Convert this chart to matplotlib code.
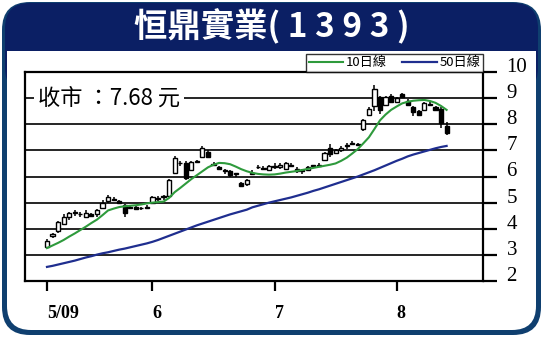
import numpy as np
import matplotlib
matplotlib.use("Agg")
import matplotlib.pyplot as plt
from matplotlib.patches import FancyBboxPatch, Rectangle

plt.rcParams['font.family'] = ['Noto Sans CJK TC', 'DejaVu Sans']

title = "恒鼎實業( 1 3 9 3 )"
close_note = "收市 ：7.68 元"
month_ticks = [0, 19, 41, 63]
month_labels = ["5/09", "6", "7", "8"]
legend_labels = ["10日線", "50日線"]

opens = [3.30, 3.72, 3.90, 4.20, 4.45, 4.60, 4.55, 4.45, 4.55, 4.55,
         4.80, 5.05, 5.15, 5.05, 4.90, 4.80, 4.85, 4.78, 4.80, 5.00,
         5.15, 5.20, 5.25, 6.15, 6.50, 6.50, 6.25, 6.55, 6.75, 6.95,
         6.45, 6.35, 6.25, 6.20, 6.10, 5.75, 5.70, 6.10, 6.35, 6.30,
         6.25, 6.40, 6.35, 6.30, 6.45, 6.30, 6.20, 6.25, 6.40, 6.40,
         6.65, 7.10, 6.90, 7.00, 7.15, 7.25, 7.25, 7.80, 8.35, 8.70,
         9.05, 8.75, 9.10, 8.85, 9.15, 8.90, 8.65, 8.50, 8.55, 8.75,
         8.65, 8.60, 7.95]
highs = [3.60, 3.85, 4.30, 4.55, 4.65, 4.70, 4.65, 4.70, 4.60, 4.75,
         5.10, 5.30, 5.20, 5.10, 4.95, 4.90, 4.90, 4.85, 4.90, 5.25,
         5.25, 5.30, 5.90, 6.80, 6.60, 6.60, 6.60, 6.65, 7.15, 7.00,
         6.55, 6.40, 6.30, 6.25, 6.15, 5.80, 5.90, 6.25, 6.45, 6.40,
         6.45, 6.50, 6.50, 6.55, 6.50, 6.35, 6.30, 6.40, 6.45, 6.50,
         6.95, 7.25, 7.05, 7.15, 7.30, 7.35, 7.30, 8.20, 8.65, 9.50,
         9.10, 9.10, 9.15, 9.05, 9.20, 8.95, 8.70, 8.55, 8.85, 8.85,
         8.70, 8.65, 8.10]
lows = [3.25, 3.65, 3.85, 4.15, 4.35, 4.50, 4.45, 4.40, 4.45, 4.45,
        4.75, 5.00, 5.05, 4.95, 4.45, 4.75, 4.70, 4.70, 4.75, 4.95,
        5.05, 5.10, 5.20, 6.10, 6.40, 5.85, 6.20, 6.50, 6.70, 6.70,
        6.40, 6.25, 6.10, 6.00, 6.00, 5.60, 5.65, 6.05, 6.30, 6.25,
        6.20, 6.30, 6.30, 6.25, 6.35, 6.15, 6.10, 6.20, 6.35, 6.35,
        6.60, 6.75, 6.85, 6.95, 7.05, 7.20, 7.15, 7.75, 8.30, 8.50,
        8.40, 8.70, 8.80, 8.80, 9.00, 8.70, 8.30, 8.30, 8.50, 8.70,
        8.50, 7.85, 7.60]
closes = [3.55, 3.80, 4.25, 4.45, 4.60, 4.60, 4.55, 4.60, 4.50, 4.70,
          5.00, 5.20, 5.10, 5.00, 4.60, 4.85, 4.75, 4.80, 4.85, 5.20,
          5.15, 5.25, 5.85, 6.70, 6.50, 5.95, 6.55, 6.55, 7.10, 6.75,
          6.45, 6.30, 6.20, 6.05, 6.10, 5.65, 5.85, 6.15, 6.35, 6.30,
          6.40, 6.35, 6.45, 6.50, 6.40, 6.20, 6.25, 6.35, 6.40, 6.45,
          6.90, 6.85, 7.00, 7.10, 7.20, 7.30, 7.20, 8.15, 8.60, 9.35,
          8.55, 9.05, 8.85, 9.00, 9.05, 8.75, 8.45, 8.35, 8.80, 8.75,
          8.55, 8.05, 7.68]
ma10 = [3.26, 3.36, 3.46, 3.57, 3.70, 3.82, 3.95, 4.08, 4.22, 4.35,
        4.52, 4.70, 4.77, 4.83, 4.86, 4.88, 4.90, 4.93, 4.97, 5.00,
        5.02, 5.04, 5.18, 5.40, 5.56, 5.73, 5.90, 6.05, 6.20, 6.35,
        6.45, 6.52, 6.51, 6.47, 6.38, 6.28, 6.20, 6.14, 6.10, 6.08,
        6.07, 6.08, 6.11, 6.15, 6.18, 6.21, 6.25, 6.29, 6.33, 6.37,
        6.41, 6.45, 6.50, 6.60, 6.72, 6.88, 7.05, 7.27, 7.50, 7.82,
        8.15, 8.37, 8.55, 8.68, 8.80, 8.86, 8.90, 8.92, 8.93, 8.89,
        8.82, 8.70, 8.55]
ma50 = [2.54, 2.58, 2.63, 2.68, 2.73, 2.78, 2.84, 2.90, 2.95, 3.01,
        3.06, 3.10, 3.15, 3.20, 3.24, 3.29, 3.34, 3.39, 3.44, 3.50,
        3.57, 3.65, 3.73, 3.81, 3.89, 3.97, 4.05, 4.13, 4.20, 4.27,
        4.34, 4.41, 4.48, 4.55, 4.61, 4.67, 4.73, 4.82, 4.88, 4.94,
        5.00, 5.05, 5.10, 5.15, 5.20, 5.26, 5.32, 5.38, 5.45, 5.51,
        5.58, 5.65, 5.72, 5.79, 5.86, 5.93, 6.00, 6.08, 6.16, 6.24,
        6.33, 6.42, 6.51, 6.60, 6.68, 6.77, 6.84, 6.90, 6.96, 7.02,
        7.08, 7.13, 7.17]

W, H = 543, 337
fig = plt.figure(figsize=(W / 100, H / 100), dpi=100)
fig.patch.set_facecolor('white')

# frame and banner, drawn in pixel coordinates
bg = fig.add_axes([0, 0, 1, 1], zorder=0)
bg.set_xlim(0, W)
bg.set_ylim(H, 0)
bg.axis('off')
bg.add_patch(FancyBboxPatch((2, 2), 539, 333, boxstyle="round,pad=0,rounding_size=28",
                            fc='#0f3f6f', ec='none'))
bg.add_patch(FancyBboxPatch((5, 3), 533, 90, boxstyle="round,pad=0,rounding_size=25",
                            fc='#0b1f64', ec='none'))
bg.add_patch(Rectangle((7, 51), 529, 200, fc='white', ec='none'))
bg.add_patch(FancyBboxPatch((7, 51), 529, 279, boxstyle="round,pad=0,rounding_size=24",
                            fc='white', ec='none'))
bg.text(W / 2, 26, title, color='white', fontsize=24, fontweight='black',
        ha='center', va='center')

ax = fig.add_axes([25 / W, 1 - 281 / H, 458 / W, 209 / H], zorder=1)
ax.set_facecolor('none')
px = 5.55
ax.set_xlim(-22 / px, (483 - 47) / px)
ax.set_ylim(2, 10)

for y in range(3, 10):
    ax.axhline(y, color='black', lw=1.2, zorder=1)

x = np.arange(len(closes))
bw = 0.75
for i in x:
    o, h, l, c = opens[i], highs[i], lows[i], closes[i]
    ax.vlines(i, l, h, color='black', lw=1.1, zorder=3)
    lo, hi = min(o, c), max(o, c)
    fc = 'white' if c >= o else 'black'
    ax.add_patch(Rectangle((i - bw / 2, lo), bw, max(hi - lo, 0.03),
                           fc=fc, ec='black', lw=1.0, zorder=4))

ax.plot(x, ma10, color='#2e9a3c', lw=1.5, label=legend_labels[0], zorder=5)
ax.plot(x, ma50, color='#1f2e8f', lw=1.6, label=legend_labels[1], zorder=5)

ax.text(-22 / px + 13 / px, 9, close_note, fontsize=16, ha='left', va='center',
        color='black', zorder=6,
        bbox=dict(fc='white', ec='none', pad=3))

for s in ax.spines.values():
    s.set_linewidth(1.6)
    s.set_color('black')

ax.yaxis.tick_right()
ax.set_yticks(range(2, 11))
ax.set_yticklabels([str(v) for v in range(2, 11)], family='Liberation Serif', fontsize=15)
for lbl in ax.get_yticklabels():
    lbl.set_va('baseline')
ax.tick_params(axis='y', length=10, width=1.6, pad=7, left=False)

ax.set_xticks(month_ticks)
ax.set_xticklabels(month_labels, family='Liberation Serif', fontsize=13, fontweight='bold')
for lbl in ax.get_xticklabels():
    lbl.set_ha('left')
ax.tick_params(axis='x', length=7, width=1.6, pad=10)

leg = ax.legend(loc='lower right', bbox_to_anchor=(1, 1), ncol=2, frameon=True,
                fancybox=False, edgecolor='black', fontsize=9.5, borderaxespad=0,
                handlelength=2.6, handletextpad=0.2, columnspacing=1.2,
                borderpad=0.2)
leg.get_frame().set_linewidth(1.0)

fig.savefig('out.png', dpi=100)
